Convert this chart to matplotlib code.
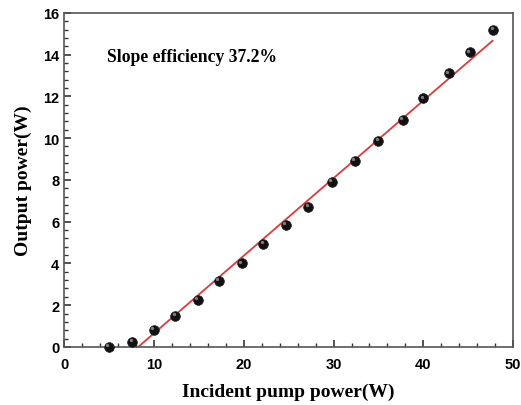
import matplotlib
matplotlib.use("Agg")
import matplotlib.pyplot as plt
from matplotlib.ticker import MultipleLocator
from matplotlib.transforms import offset_copy

pump = [5.0, 7.6, 10.0, 12.4, 14.9, 17.2, 19.8, 22.2, 24.7, 27.2, 29.8, 32.4, 35.0, 37.7, 40.0, 42.8, 45.2, 47.8]
output = [0.0, 0.24, 0.81, 1.5, 2.25, 3.15, 4.0, 4.93, 5.84, 6.7, 7.9, 8.9, 9.86, 10.86, 11.9, 13.1, 14.1, 15.2]
fit_x = [8.25, 47.7]
fit_y = [0.0, 14.66]

fig = plt.figure(figsize=(5.21, 4.06), dpi=100)
ax = fig.add_axes([0.123, 0.143, 0.862, 0.823])

ax.plot(fit_x, fit_y, color="#e0393a", lw=1.3, zorder=2)
ax.plot(pump, output, "o", color="#111111", markersize=7, markeredgecolor="#222222",
        markeredgewidth=0.5, zorder=3, clip_on=False)
hl = offset_copy(ax.transData, fig=fig, x=-1.2, y=1.2, units="points")
ax.plot(pump, output, "o", color="#8a8a8a", markersize=2.4, markeredgewidth=0,
        zorder=4, clip_on=False, alpha=0.9, transform=hl)

ax.set_xlim(0, 50)
ax.set_ylim(0, 16)
ax.xaxis.set_major_locator(MultipleLocator(10))
ax.xaxis.set_minor_locator(MultipleLocator(2))
ax.yaxis.set_major_locator(MultipleLocator(2))
ax.yaxis.set_minor_locator(MultipleLocator(0.4))
ax.tick_params(which="both", direction="in", colors="#333333")
ax.tick_params(which="major", length=5, width=1.2, labelsize=10.5, labelcolor="black")
ax.tick_params(axis="x", which="major", pad=7)
ax.tick_params(which="minor", length=3, width=1.0)
for lab in ax.get_xticklabels() + ax.get_yticklabels():
    lab.set_fontfamily("Liberation Sans")
    lab.set_fontweight("bold")
for s in ax.spines.values():
    s.set_color("#555555")
    s.set_linewidth(1.2)

ax.set_xlabel("Incident pump power(W)", fontfamily="Liberation Serif", fontweight="bold",
              fontsize=14, labelpad=9)
ax.set_ylabel("Output power(W)", fontfamily="Liberation Serif", fontweight="bold",
              fontsize=14, labelpad=8)
ax.text(4.8, 13.9, "Slope efficiency 37.2%", fontfamily="Liberation Serif",
        fontweight="bold", fontsize=12.7, va="center", ha="left")

fig.savefig("out.png", dpi=100)
